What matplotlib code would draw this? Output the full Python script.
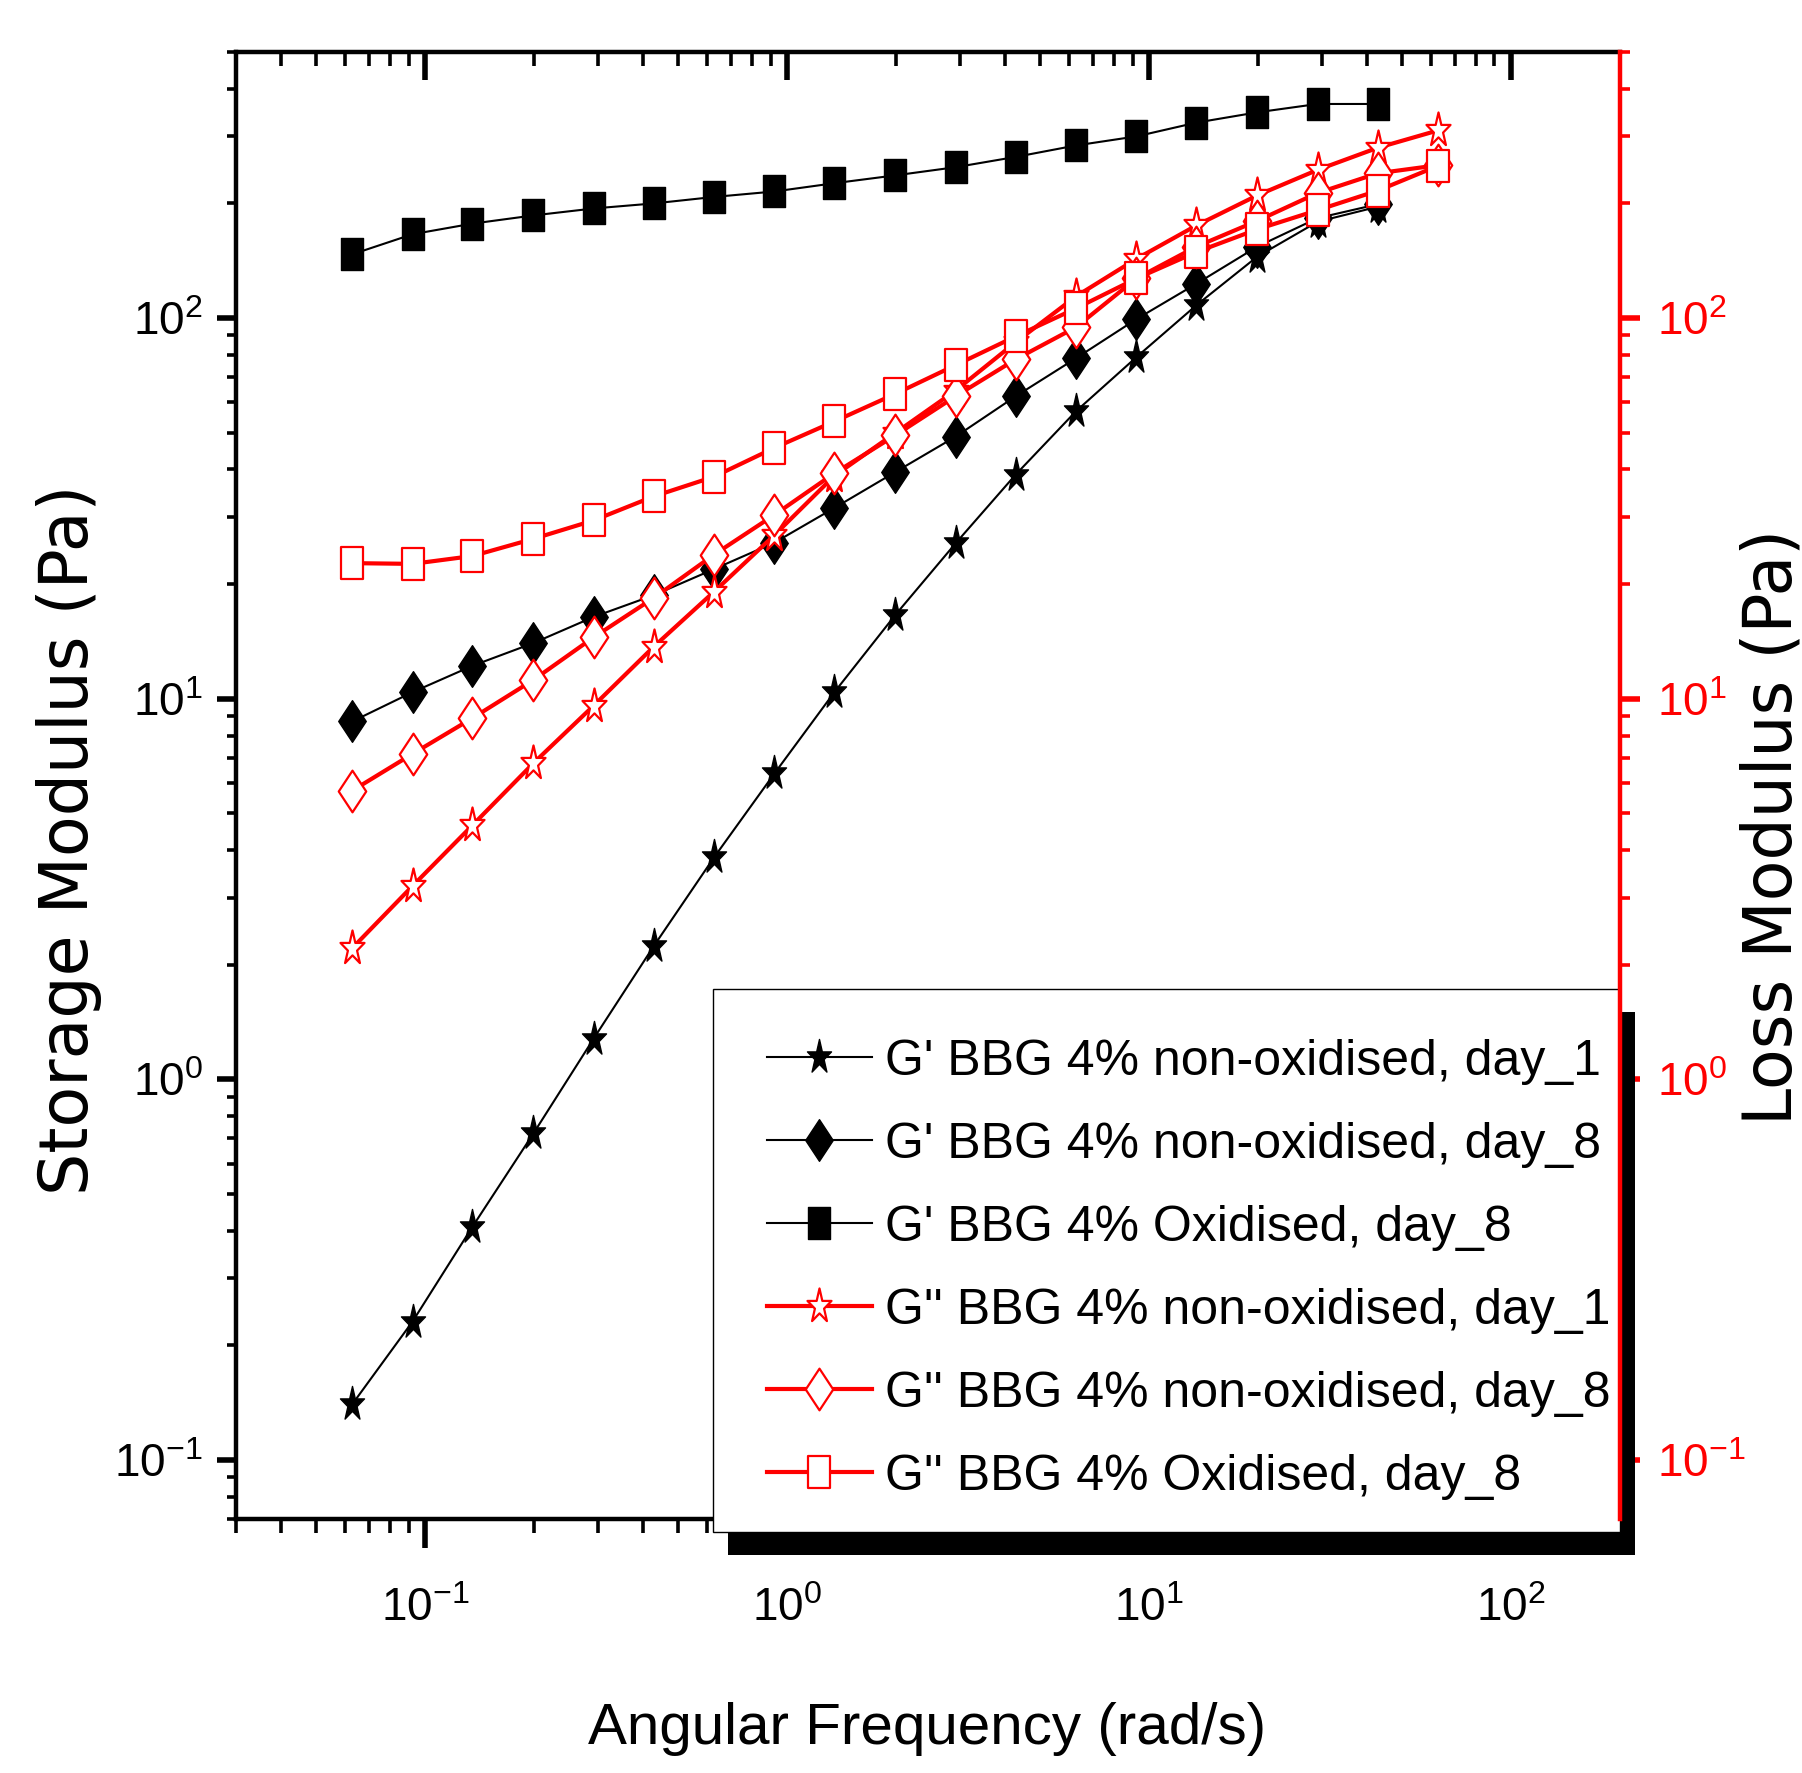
import numpy as np
import matplotlib
matplotlib.use("Agg")
import matplotlib.pyplot as plt
from matplotlib import font_manager
from matplotlib.path import Path
from matplotlib.patches import Rectangle
from matplotlib.ticker import LogLocator, NullFormatter

# angular frequency sweep (rad/s)
freq = [0.0628, 0.0922, 0.135, 0.199, 0.292, 0.428, 0.628, 0.922, 1.35, 1.99,
        2.92, 4.28, 6.28, 9.22, 13.5, 19.9, 29.2, 42.8, 62.8]

# storage modulus G' (Pa), left axis -- 18 points each
gp_nonox_d1 = [0.140, 0.231, 0.410, 0.721, 1.28, 2.24, 3.83, 6.36, 10.4, 16.6,
               25.6, 38.8, 56.9, 78.9, 108, 145, 179, 196]
gp_nonox_d8 = [8.71, 10.4, 12.2, 14.0, 16.4, 18.7, 21.9, 25.7, 31.7, 39.4,
               48.8, 62.3, 78.4, 99.3, 123, 154, 183, 199]
gp_ox_d8 = [147, 166, 177, 186, 194, 200, 208, 215, 226, 237,
            249, 265, 284, 300, 326, 347, 365, 365]

# loss modulus G'' (Pa), right axis -- 19 points each
gpp_nonox_d1 = [2.21, 3.22, 4.65, 6.77, 9.59, 13.7, 19.1, 26.9, 38.5, 49.9,
                64.5, 86.4, 114, 143, 175, 210, 245, 280, 311]
gpp_nonox_d8 = [5.73, 7.16, 8.89, 11.2, 14.5, 18.4, 23.9, 30.4, 39.1, 49.2,
                62.3, 77.9, 94.6, 127, 154, 180, 213, 240, 252]
gpp_ox_d8 = [22.7, 22.6, 23.7, 26.3, 29.4, 34.0, 38.3, 45.6, 53.5, 63.2,
             75.2, 89.5, 106, 127, 149, 171, 192, 216, 251]

labels = ["G' BBG 4% non-oxidised, day_1",
          "G' BBG 4% non-oxidised, day_8",
          "G' BBG 4% Oxidised, day_8",
          "G'' BBG 4% non-oxidised, day_1",
          "G'' BBG 4% non-oxidised, day_8",
          "G'' BBG 4% Oxidised, day_8"]

# fonts: narrow face for horizontal text if there is one
names = {f.name for f in font_manager.fontManager.ttflist}
narrow = 'Liberation Sans Narrow' if 'Liberation Sans Narrow' in names else 'Liberation Sans'
plt.rcParams['font.family'] = [narrow, 'DejaVu Sans']
plt.rcParams['mathtext.fontset'] = 'custom'
plt.rcParams['mathtext.rm'] = narrow


def closed(verts):
    v = np.asarray(verts, dtype=float)
    return Path(np.vstack([v, v[:1]]), closed=True)


# tall markers, like the stretched originals
ang = np.deg2rad(90 + 36 * np.arange(10))
rad = np.where(np.arange(10) % 2 == 0, 1.0, 0.382)
STAR = closed(np.column_stack([0.7 * rad * np.cos(ang), rad * np.sin(ang)]))
DIAMOND = closed([(0, 1), (0.66, 0), (0, -1), (-0.66, 0)])
SQUARE = closed([(-0.68, -1), (0.68, -1), (0.68, 1), (-0.68, 1)])

RED = '#ff0000'

fig = plt.figure(figsize=(9.01, 8.865), dpi=200)
ax = fig.add_axes([0.1310, 0.1433, 0.7680, 0.8274])
ax2 = ax.twinx()

n = len(gp_ox_d8)
black_kw = dict(color='black', lw=0.75, mfc='black', mec='black', mew=0.5)
h1, = ax.plot(freq[:n], gp_nonox_d1, marker=STAR, ms=13, **black_kw)
h2, = ax.plot(freq[:n], gp_nonox_d8, marker=DIAMOND, ms=15, **black_kw)
h3, = ax.plot(freq[:n], gp_ox_d8, marker=SQUARE, ms=11.2, **black_kw)

red_kw = dict(color=RED, lw=1.5, mfc='white', mec=RED, mew=0.8)
h4, = ax2.plot(freq, gpp_nonox_d1, marker=STAR, ms=13, **red_kw)
h5, = ax2.plot(freq, gpp_nonox_d8, marker=DIAMOND, ms=15, **red_kw)
h6, = ax2.plot(freq, gpp_ox_d8, marker=SQUARE, ms=11.2, **red_kw)

for a in (ax, ax2):
    a.set_xscale('log')
    a.set_yscale('log')
    a.set_xlim(0.03, 200)
    a.set_ylim(0.07, 500)
    a.yaxis.set_major_locator(LogLocator(base=10))
    a.yaxis.set_minor_locator(LogLocator(base=10, subs=np.arange(2, 10)))
    a.yaxis.set_minor_formatter(NullFormatter())
ax.xaxis.set_major_locator(LogLocator(base=10))
ax.xaxis.set_minor_locator(LogLocator(base=10, subs=np.arange(2, 10)))
ax.xaxis.set_minor_formatter(NullFormatter())

# spines
for s in ('left', 'bottom', 'top'):
    ax.spines[s].set_linewidth(1.6)
ax.spines['right'].set_visible(False)
for s in ('left', 'bottom', 'top'):
    ax2.spines[s].set_visible(False)
ax2.spines['right'].set_color(RED)
ax2.spines['right'].set_linewidth(1.6)

# ticks
ax.tick_params(axis='x', which='major', direction='out', length=10.4, width=2,
               labelsize=16.5, pad=14, top=False)
ax.tick_params(axis='x', which='minor', direction='out', length=5, width=1.3, top=False)
ax.tick_params(axis='y', which='major', direction='out', length=7, width=2,
               labelsize=16.5, pad=5, right=False)
ax.tick_params(axis='y', which='minor', direction='out', length=3.4, width=1.3, right=False)

ax2.tick_params(axis='y', which='major', direction='out', length=7.2, width=2,
                labelsize=16.5, pad=6, colors=RED)
ax2.tick_params(axis='y', which='minor', direction='out', length=3.6, width=1.3, colors=RED)

# inward ticks along the top edge
ax2.xaxis.set_visible(True)
ax2.xaxis.tick_top()
ax2.tick_params(axis='x', which='major', direction='in', length=10, width=2,
                top=True, bottom=False, labeltop=False, labelbottom=False)
ax2.tick_params(axis='x', which='minor', direction='in', length=5, width=1.3,
                top=True, bottom=False)

# axis titles
ax.set_xlabel('Angular Frequency (rad/s)', fontsize=21)
ax.xaxis.set_label_coords(0.499, -0.125)
ax.set_ylabel('Storage Modulus (Pa)', fontsize=24, family='DejaVu Sans')
ax.yaxis.set_label_coords(-0.097, 0.463)
ax2.set_ylabel('Loss Modulus (Pa)', fontsize=24, family='DejaVu Sans', color='black')
ax2.yaxis.set_label_coords(1.086, 0.472)

# legend box with a solid offset shadow
bx, by, bw, bh = 0.3957, 0.1359, 0.5033, 0.3063
ax2.add_patch(Rectangle((bx + 0.0083, by - 0.0130), bw, bh, transform=fig.transFigure,
                        facecolor='black', edgecolor='black', lw=0, clip_on=False, zorder=2.2))
ax2.add_patch(Rectangle((bx, by), bw, bh, transform=fig.transFigure,
                        facecolor='white', edgecolor='black', lw=0.5, clip_on=False, zorder=2.3))
leg = ax2.legend([h1, h2, h3, h4, h5, h6], labels, loc='center left',
                 bbox_to_anchor=(0.4256, 0.2840), bbox_transform=fig.transFigure,
                 frameon=False, fontsize=18, handlelength=2.1, handletextpad=0.26,
                 labelspacing=0.74, borderpad=0, borderaxespad=0, numpoints=1)

fig.savefig('out.png', dpi=200)
